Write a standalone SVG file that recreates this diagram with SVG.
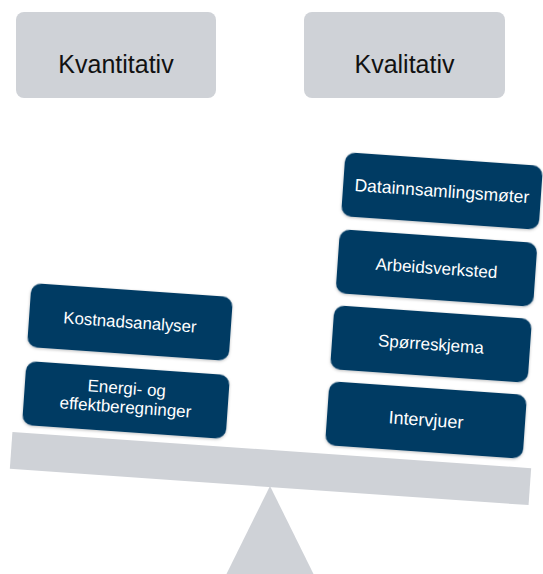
<svg xmlns="http://www.w3.org/2000/svg" width="543" height="574" viewBox="0 0 543 574">
  <style>
    .head { fill: #CFD2D7; }
    .headtxt { font-family: "Liberation Sans", Arial, sans-serif; font-size: 25px; fill: #111111; text-anchor: middle; }
    .box { fill: #033B64; filter: url(#sh); }
    .boxtxt { font-family: "Liberation Sans", Arial, sans-serif; font-size: 17px; fill: #FFFFFF; text-anchor: middle; }
    .scale { fill: #CFD2D7; }
  </style>
  <defs>
    <filter id="sh" x="-10%" y="-20%" width="120%" height="140%">
      <feDropShadow dx="0" dy="1" stdDeviation="1.5" flood-color="#000000" flood-opacity="0.25"/>
    </filter>
  </defs>
  <rect width="543" height="574" fill="#FFFFFF"/>

  <g id="kvantitativ">
    <rect class="head" x="16" y="12" width="200" height="86" rx="8"/>
    <text class="headtxt" x="116" y="73">Kvantitativ</text>
  </g>
  <g id="kvalitativ">
    <rect class="head" x="304" y="12" width="201" height="86" rx="8"/>
    <text class="headtxt" x="404.5" y="73">Kvalitativ</text>
  </g>

  <g id="scale">
    <polygon class="scale" points="270,486 225,577 315,577"/>
    <rect class="scale" x="-260" y="-18.5" width="520" height="37" transform="translate(270.5,468.5) rotate(4)"/>
  </g>

  <g id="kostnadsanalyser" transform="translate(130,322) rotate(4)">
    <rect class="box" x="-101" y="-32" width="202" height="64" rx="10"/>
    <text class="boxtxt" x="0" y="6" style="font-size:16.8px">Kostnadsanalyser</text>
  </g>
  <g id="energi" transform="translate(126,400) rotate(4)">
    <rect class="box" x="-102" y="-32" width="204" height="64" rx="10"/>
    <text class="boxtxt" x="0" y="-6">Energi- og</text>
    <text class="boxtxt" x="0" y="13">effektberegninger</text>
  </g>

  <g id="datainnsamlingsmoter" transform="translate(442,191) rotate(4)">
    <rect class="box" x="-99" y="-32" width="198" height="64" rx="10"/>
    <text class="boxtxt" x="0" y="6" style="font-size:17.5px">Datainnsamlingsmøter</text>
  </g>
  <g id="arbeidsverksted" transform="translate(436.5,268) rotate(4)">
    <rect class="box" x="-99" y="-32" width="198" height="64" rx="10"/>
    <text class="boxtxt" x="0" y="6">Arbeidsverksted</text>
  </g>
  <g id="sporreskjema" transform="translate(431,344) rotate(4)">
    <rect class="box" x="-99" y="-32" width="198" height="64" rx="10"/>
    <text class="boxtxt" x="0" y="6">Spørreskjema</text>
  </g>
  <g id="intervjuer" transform="translate(426,420) rotate(4)">
    <rect class="box" x="-99" y="-32" width="198" height="64" rx="10"/>
    <text class="boxtxt" x="0" y="6" style="font-size:18px">Intervjuer</text>
  </g>
</svg>
